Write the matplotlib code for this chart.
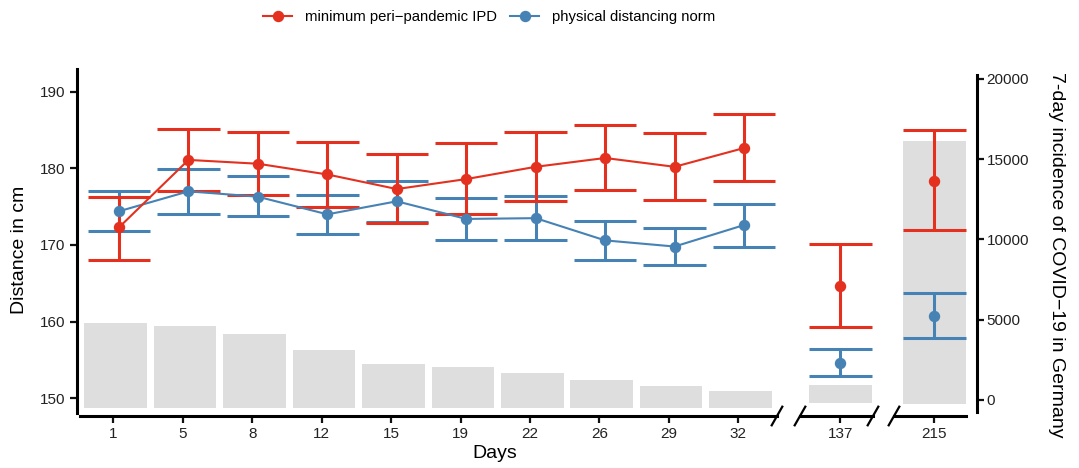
import numpy as np
import matplotlib
matplotlib.use("Agg")
import matplotlib.pyplot as plt

plt.rcParams["font.family"] = ["Liberation Sans", "DejaVu Sans"]

# data
days = ["1", "5", "8", "12", "15", "19", "22", "26", "29", "32"]
late_days = ["137", "215"]

ipd_mean = [172.3, 181.1, 180.6, 179.2, 177.3, 178.6, 180.2, 181.35, 180.2, 182.65]
ipd_lo = [168.1, 177.0, 176.5, 174.9, 172.9, 174.0, 175.7, 177.2, 175.9, 178.35]
ipd_hi = [176.3, 185.1, 184.7, 183.5, 181.9, 183.3, 184.8, 185.6, 184.6, 187.05]

norm_mean = [174.4, 177.0, 176.3, 174.0, 175.7, 173.4, 173.5, 170.6, 169.8, 172.6]
norm_lo = [171.8, 174.1, 173.8, 171.4, 173.0, 170.7, 170.6, 168.0, 167.35, 169.8]
norm_hi = [177.0, 179.9, 179.0, 176.5, 178.4, 176.1, 176.35, 173.1, 172.2, 175.3]

ipd_late_mean = [164.7, 178.4]
ipd_late_lo = [159.3, 171.9]
ipd_late_hi = [170.1, 185.0]
norm_late_mean = [154.65, 160.8]
norm_late_lo = [152.9, 157.9]
norm_late_hi = [156.4, 163.7]

incidence = [4780, 4610, 4110, 3120, 2240, 2060, 1680, 1250, 870, 560]
incidence_late = [930, 16160]

RED = "#E3301F"
BLUE = "#4682B4"
GREY = "#DEDEDE"
W, H = 1079, 468

YLIM = (147.69, 192.96)
Y2LIM = (-997, 20623)
BAR_BASE = [-480, -210, -270]


def px_axes(fig, x0, x1, y_top=69, y_bot=416):
    return fig.add_axes([x0 / W, 1 - y_bot / H, (x1 - x0) / W, (y_bot - y_top) / H])


def series(ax, x, mean, lo, hi, color, label=None):
    x = np.asarray(x, float)
    ax.vlines(x, lo, hi, color=color, lw=2.2, zorder=3)
    ax.hlines(lo, x - 0.45, x + 0.45, color=color, lw=2.2, zorder=3)
    ax.hlines(hi, x - 0.45, x + 0.45, color=color, lw=2.2, zorder=3)
    ax.plot(x, mean, "-o", color=color, lw=1.5, ms=7.2, zorder=4, label=label)


def style(ax, tw):
    ax.set_zorder(tw.get_zorder() + 1)
    ax.patch.set_visible(False)
    ax.set_ylim(*YLIM)
    tw.set_ylim(*Y2LIM)
    for a in (ax, tw):
        for s in a.spines.values():
            s.set_visible(False)
        a.tick_params(length=5, width=1.6, labelsize=11, colors="#111111",
                      labelcolor="#222222")
    ax.spines["bottom"].set_visible(True)
    ax.spines["bottom"].set_linewidth(2.2)
    ax.tick_params(axis="x", pad=3)
    ax.set_yticks([])
    tw.set_yticks([])


def slash(fig, ax, xd):
    x, y = ax.transData.transform((xd, YLIM[0]))
    fx, fy = x / (W), y / (H)
    dx, dy = 5.3 / W, 9.3 / H
    fig.lines.append(plt.Line2D([fx - dx, fx + dx], [fy - dy, fy + dy],
                                transform=fig.transFigure, color="black",
                                lw=1.6, clip_on=False))


fig = plt.figure(figsize=(W / 100, H / 100), dpi=100)

# panel 1: days 1-32
ax1 = px_axes(fig, 77, 777)
tw1 = ax1.twinx()
style(ax1, tw1)
pos = np.arange(1, len(days) + 1)
tw1.bar(pos + 0.033, np.array(incidence) - BAR_BASE[0], bottom=BAR_BASE[0],
        width=0.9, color=GREY)
series(ax1, pos + 0.082, norm_mean, norm_lo, norm_hi, BLUE, "physical distancing norm")
series(ax1, pos + 0.082, ipd_mean, ipd_lo, ipd_hi, RED, "minimum peri\u2212pandemic IPD")
ax1.set_xlim(0.477, 10.557)
ax1.set_xticks(pos)
ax1.set_xticklabels(days)
ax1.spines["bottom"].set_bounds(0.52, 10.557)
ax1.spines["left"].set_visible(True)
ax1.spines["left"].set_linewidth(2.2)
ax1.spines["left"].set_bounds(148.08, YLIM[1])
ax1.set_yticks([150, 160, 170, 180, 190])
ax1.tick_params(axis="y", pad=3.5)

# panels 2 and 3: days 137, 215
ax2 = px_axes(fig, 800, 873)
ax3 = px_axes(fig, 894, 977)
tw2, tw3 = ax2.twinx(), ax3.twinx()
for i, (ax, tw, xl) in enumerate([(ax2, tw2, (-0.583, 0.468)),
                                   (ax3, tw3, (-0.583, 0.612))]):
    style(ax, tw)
    tw.bar([0], [incidence_late[i] - BAR_BASE[i + 1]], bottom=BAR_BASE[i + 1],
           width=0.9, color=GREY)
    series(ax, [0], [norm_late_mean[i]], [norm_late_lo[i]], [norm_late_hi[i]], BLUE)
    series(ax, [0], [ipd_late_mean[i]], [ipd_late_lo[i]], [ipd_late_hi[i]], RED)
    ax.set_xlim(*xl)
    ax.set_xticks([0])
    ax.set_xticklabels([late_days[i]])
ax3.spines["bottom"].set_bounds(-0.583, 0.454)

tw3.spines["right"].set_visible(True)
tw3.spines["right"].set_linewidth(2.2)
tw3.spines["right"].set_bounds(-748, 20249)
tw3.set_yticks([0, 5000, 10000, 15000, 20000])
tw3.tick_params(axis="y", pad=2)

# axis break marks
slash(fig, ax1, 10.557)
slash(fig, ax2, -0.583)
slash(fig, ax2, 0.468)
slash(fig, ax3, -0.583)

fig.text(19.5 / W, 1 - 250 / H, "Distance in cm", rotation=90, fontsize=14,
         ha="center", va="center")
fig.text(1057 / W, 1 - 255 / H, "7-day incidence of COVID\u221219 in Germany",
         rotation=-90, fontsize=14, ha="center", va="center")
fig.text(495 / W, 1 - 453 / H, "Days", fontsize=14, ha="center", va="center")

h, l = ax1.get_legend_handles_labels()
fig.legend(h[::-1], l[::-1], loc="center", bbox_to_anchor=(489 / W, 1 - 17 / H),
           ncol=2, frameon=False, fontsize=10.7, handlelength=1.95,
           handletextpad=0.85, columnspacing=0.9)

fig.savefig("out.png", dpi=100)
